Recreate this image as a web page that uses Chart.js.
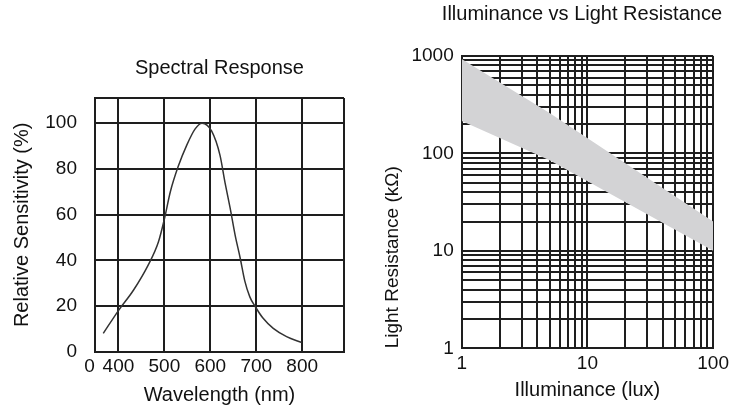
<!DOCTYPE html>
<html><head><meta charset="utf-8">
<script src="https://cdn.jsdelivr.net/npm/chart.js@4/dist/chart.umd.min.js"></script>
<style>
html,body{margin:0;padding:0;background:#fff;width:729px;height:410px;overflow:hidden;position:relative}
#c1{position:absolute;left:0;top:0}
#c2{position:absolute;left:365px;top:0}
</style></head><body>
<canvas id="c1" width="365" height="410"></canvas>
<canvas id="c2" width="368" height="410"></canvas>
<script>
// ---- Spectral Response data ----
const wavelengths = [367, 400, 433, 465, 487, 500, 513, 530, 549, 567, 582, 603, 621, 632, 643, 654, 665, 675, 686, 697, 715, 737, 766, 799];
const sensitivity = [8, 18, 27, 38, 48, 58, 70, 81, 90.5, 97.5, 100, 96.5, 86, 74, 63, 51, 41, 31, 24, 20, 14.6, 10.2, 6.6, 4];
const wlMin = 349, wlMax = 891;
const wlTickValues = [337, 349, 400, 500, 600, 700, 800, 891];
const wlTickLabels = ['0', '', '400', '500', '600', '700', '800', ''];
const sensTickValues = [0, 20, 40, 60, 80, 100, 111];
const sensTickLabels = ['0', '20', '40', '60', '80', '100', ''];

// ---- Illuminance vs Light Resistance data ----
const bandLux = [1, 5, 100];
const bandUpper = [930, 260, 20];
const bandLower = [215, 85, 10];
const luxTickValues = [1, 2, 3, 4, 5, 6, 7, 8, 9, 10, 20, 30, 40, 50, 60, 70, 80, 90, 100];
const luxTickLabels = {1: '1', 10: '10', 100: '100'};
const resTickValues = [1, 2, 3, 4, 5, 6, 7, 8, 9, 10, 20, 30, 40, 50, 60, 70, 80, 90, 100, 200, 300, 400, 500, 600, 700, 800, 900, 1000];
const resTickLabels = {1: '1', 10: '10', 100: '100', 1000: '1000'};

const FONT = '"Liberation Sans", Arial, sans-serif';
const INK = '#111';
const GRID = '#1e1e1e';
Chart.defaults.font.family = FONT;
Chart.defaults.color = INK;

const gridOpts = {color: GRID, lineWidth: 2, drawTicks: false};
const borderOpts = {color: GRID, width: 2};

new Chart(document.getElementById('c1'), {
  type: 'line',
  data: {
    datasets: [{
      data: wavelengths.map((w, i) => ({x: w, y: sensitivity[i]})),
      borderColor: '#333',
      borderWidth: 1.5,
      pointRadius: 0,
      cubicInterpolationMode: 'monotone',
      fill: false
    }]
  },
  options: {
    responsive: false,
    animation: false,
    devicePixelRatio: 1,
    layout: {padding: {left: 0, right: 21, top: 0, bottom: 0}},
    plugins: {
      legend: {display: false},
      tooltip: {enabled: false},
      title: {display: true, fullSize: false, text: 'Spectral Response', color: INK,
        font: {size: 20, weight: 'normal', family: FONT}, padding: {top: 56, bottom: 18}}
    },
    scales: {
      x: {
        type: 'linear', min: wlMin, max: wlMax,
        afterBuildTicks: s => { s.ticks = wlTickValues.map(v => ({value: v})); },
        afterFit: s => { s.height = 58.3; },
        ticks: {autoSkip: false, maxRotation: 0, padding: 4, font: {size: 19}, color: INK,
          callback: (v, i) => wlTickLabels[i]},
        grid: {
          color: ctx => (ctx.tick && ctx.tick.value < wlMin) ? 'rgba(0,0,0,0)' : GRID,
          lineWidth: 2, drawTicks: false
        },
        border: borderOpts,
        title: {display: true, text: 'Wavelength (nm)', color: INK, font: {size: 20}, padding: {top: 0, bottom: 3}}
      },
      y: {
        type: 'linear', min: 0, max: 111,
        afterBuildTicks: s => { s.ticks = sensTickValues.map(v => ({value: v})); },
        afterFit: s => { s.width = 95; },
        ticks: {autoSkip: false, padding: 18, font: {size: 19}, color: INK,
          callback: (v, i) => sensTickLabels[i]},
        grid: gridOpts, border: borderOpts,
        title: {display: true, text: 'Relative Sensitivity (%)', color: INK, font: {size: 20}, padding: {top: 10, bottom: 0}}
      }
    }
  }
});

new Chart(document.getElementById('c2'), {
  type: 'line',
  data: {
    datasets: [
      {
        data: bandLux.map((x, i) => ({x: x, y: bandUpper[i]})),
        borderWidth: 0, borderColor: 'rgba(0,0,0,0)', pointRadius: 0,
        backgroundColor: 'rgb(211,211,213)', fill: '+1', tension: 0
      },
      {
        data: bandLux.map((x, i) => ({x: x, y: bandLower[i]})),
        borderWidth: 0, borderColor: 'rgba(0,0,0,0)', pointRadius: 0,
        fill: false, tension: 0
      }
    ]
  },
  options: {
    responsive: false,
    animation: false,
    devicePixelRatio: 1,
    layout: {padding: {left: 0, right: 11, top: 0, bottom: 0}},
    plugins: {
      legend: {display: false},
      tooltip: {enabled: false},
      title: {display: true, align: 'end', text: 'Illuminance vs Light Resistance', color: INK,
        font: {size: 20, weight: 'normal', family: FONT}, padding: {top: 2.5, bottom: 29.5}}
    },
    scales: {
      x: {
        type: 'logarithmic', min: 1, max: 100, z: 1,
        afterBuildTicks: s => { s.ticks = luxTickValues.map(v => ({value: v})); },
        afterFit: s => { s.height = 61.7; },
        ticks: {autoSkip: false, maxRotation: 0, padding: 4, font: {size: 19}, color: INK,
          callback: v => luxTickLabels[v] || ''},
        grid: gridOpts, border: borderOpts,
        title: {display: true, text: 'Illuminance (lux)', color: INK, font: {size: 20}, padding: {top: 0, bottom: 8}}
      },
      y: {
        type: 'logarithmic', min: 1, max: 1000, z: 1,
        afterBuildTicks: s => { s.ticks = resTickValues.map(v => ({value: v})); },
        afterFit: s => { s.width = 96.7; },
        ticks: {autoSkip: false, padding: 8, font: {size: 19}, color: INK,
          callback: v => resTickLabels[v] || ''},
        grid: gridOpts, border: borderOpts,
        title: {display: true, text: 'Light Resistance (kΩ)', align: 'start', color: INK, font: {size: 19}, padding: {top: 16, bottom: 0}}
      }
    }
  }
});
</script>
</body></html>
